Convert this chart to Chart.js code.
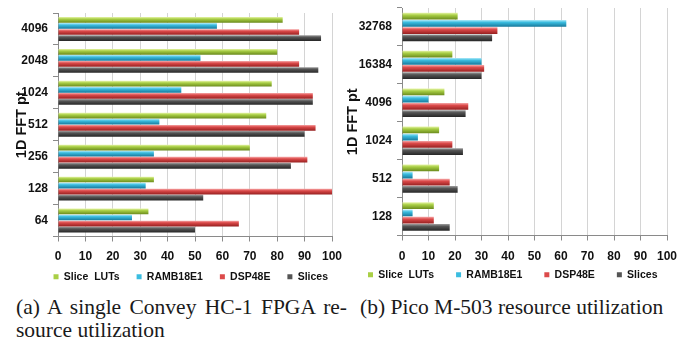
<!DOCTYPE html>
<html>
<head>
<meta charset="utf-8">
<script src="https://cdn.jsdelivr.net/npm/chart.js@4.4.1/dist/chart.umd.min.js"></script>
<style>
body{margin:0;background:#fff;width:694px;height:341px;position:relative;overflow:hidden}
.box{position:absolute;top:0}
.cap{position:absolute;font-family:'Liberation Serif','Times New Roman',serif;font-size:21.5px;line-height:23px;color:#1a1a1a;white-space:nowrap}
</style>
</head>
<body>
<div class="box" style="left:0"><canvas id="conv" width="345" height="292"></canvas></div>
<div class="box" style="left:345px"><canvas id="pico" width="349" height="290"></canvas></div>
<div class="cap" style="left:16px;top:296px;width:331px;text-align:justify;text-align-last:justify">(a) A single Convey HC-1 FPGA re-</div>
<div class="cap" style="left:16px;top:319px">source utilization</div>
<div class="cap" style="left:360px;top:296px">(b) Pico M-503 resource utilization</div>
<script>
// series names (legend order)
const seriesNames = ['Slice  LUTs', 'RAMB18E1', 'DSP48E', 'Slices'];

// (a) Convey HC-1, values in %
const convCats   = ['4096', '2048', '1024', '512', '256', '128', '64'];
const convLuts   = [82, 80, 78, 76, 70, 35, 33];
const convRamb   = [58, 52, 45, 37, 35, 32, 27];
const convDsp    = [88, 88, 93, 94, 91, 100, 66];
const convSlices = [96, 95, 93, 90, 85, 53, 50];

// (b) Pico M-503, values in %
const picoCats   = ['32768', '16384', '4096', '1024', '512', '128'];
const picoLuts   = [21, 19, 16, 14, 14, 12];
const picoRamb   = [62, 30, 10, 6, 4, 4];
const picoDsp    = [36, 31, 25, 19, 18, 12];
const picoSlices = [34, 30, 24, 23, 21, 18];

const xMin = 0, xMax = 100, xStep = 10;

const colors = [
    {light: '#e6f4a8', base: '#a9cf45', dark: '#6a8a1c'},
    {light: '#b4ecfa', base: '#3bbde0', dark: '#17789a'},
    {light: '#f6a8a8', base: '#dc4a4a', dark: '#962020'},
    {light: '#a0a0a0', base: '#555555', dark: '#262626'}
];
const sansFont = "'Liberation Sans', Arial, sans-serif";

// gives each bar a top-to-bottom shade like the old excel 3d look
const shade = {
    id: 'shade',
    beforeDatasetsDraw(chart) {
        const c = chart.ctx;
        chart.data.datasets.forEach((ds, i) => {
            chart.getDatasetMeta(i).data.forEach(bar => {
                const p = bar.getProps(['y', 'height'], true);
                const g = c.createLinearGradient(0, p.y - p.height / 2, 0, p.y + p.height / 2);
                g.addColorStop(0, colors[i].light);
                g.addColorStop(0.35, colors[i].base);
                g.addColorStop(1, colors[i].dark);
                bar.options.backgroundColor = g;
            });
        });
    }
};

function buildChart(id, cats, series, geo) {
    return new Chart(document.getElementById(id), {
        type: 'bar',
        data: {
            labels: cats,
            datasets: series.map((vals, i) => ({
                label: seriesNames[i],
                data: vals,
                backgroundColor: () => colors[i].base,
                borderWidth: 0,
                categoryPercentage: geo.cat,
                barPercentage: 0.94
            }))
        },
        options: {
            indexAxis: 'y',
            responsive: false,
            animation: false,
            layout: {padding: {top: geo.top, right: 0, left: geo.left, bottom: 0}},
            plugins: {
                tooltip: {enabled: false},
                legend: {
                    position: 'bottom',
                    align: geo.legAlign,
                    labels: {
                        boxWidth: 5, boxHeight: 5, padding: geo.legPad,
                        color: '#111',
                        font: {family: sansFont, size: 10.5, weight: 'bold'}
                    }
                }
            },
            scales: {
                x: {
                    min: xMin, max: xMax,
                    // mirrored so the labels are not clipped to the short axis box
                    ticks: {stepSize: xStep, mirror: true, padding: geo.xlab, color: '#111',
                        font: {family: sansFont, size: 12, weight: 'bold'}},
                    grid: {color: '#d4d4d4', tickLength: 5, tickColor: '#8a8a8a'},
                    border: {color: '#8a8a8a'},
                    afterFit: s => { s.height = geo.xh; s.paddingLeft = 0; s.paddingRight = geo.right; }
                },
                y: {
                    ticks: {padding: 5, color: '#111', font: {family: sansFont, size: 12, weight: 'bold'}},
                    grid: {offset: true, drawOnChartArea: false, tickLength: 5, color: '#8a8a8a'},
                    border: {color: '#8a8a8a'},
                    title: {
                        display: true, text: '1D FFT pt', color: '#111',
                        font: {family: sansFont, size: 14.5, weight: 'bold'},
                        padding: {top: geo.tpad, bottom: 0}
                    },
                    afterFit: s => { s.width = geo.yw; s.paddingTop = 0; s.paddingBottom = 0; }
                }
            }
        },
        plugins: [shade]
    });
}

buildChart('conv', convCats, [convLuts, convRamb, convDsp, convSlices],
    {cat: 0.76, top: 13, right: 13, left: 20, yw: 38, xh: 18, xlab: -27.2, tpad: -6.7, legPad: 17, legAlign: 'end'});
buildChart('pico', picoCats, [picoLuts, picoRamb, picoDsp, picoSlices],
    {cat: 0.76, top: 8, right: 27, left: 1, yw: 56, xh: 12, xlab: -28.2, tpad: -1.7, legPad: 22, legAlign: 'start'});
</script>
</body>
</html>
